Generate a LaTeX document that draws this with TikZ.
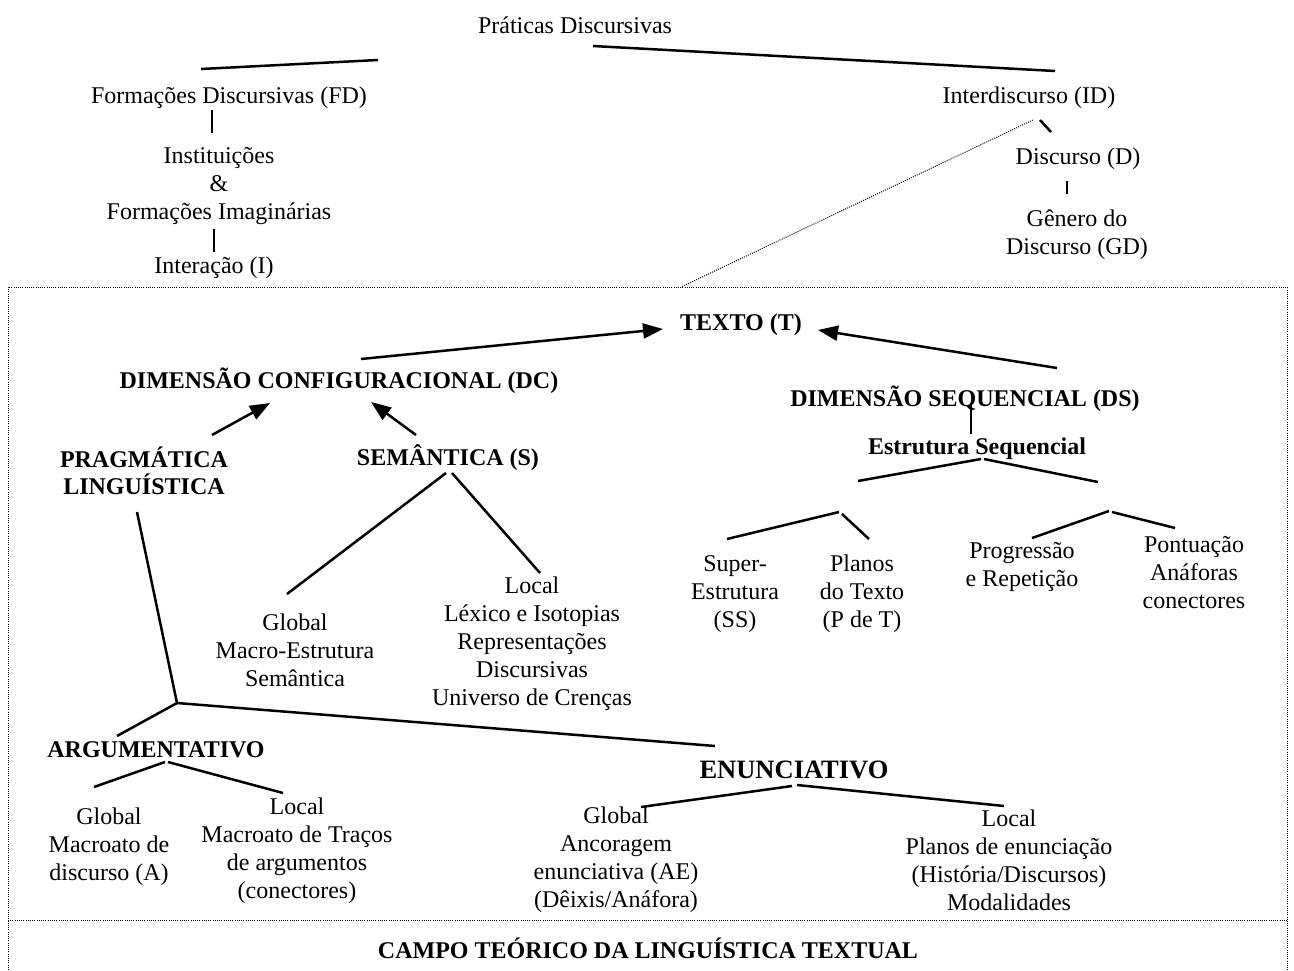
\documentclass[tikz,border=0pt]{standalone}
\usepackage{fontspec}
\setmainfont{Liberation Serif}
\usetikzlibrary{arrows.meta}
\begin{document}
\begin{tikzpicture}[x=1pt,y=-1pt,
  txt/.style={inner sep=0pt, align=center, font=\fontsize{24}{28}\selectfont},
  btxt/.style={inner sep=0pt, align=center, font=\fontsize{24}{27}\selectfont\bfseries},
  ln/.style={line width=2.5pt},
  arr/.style={line width=2.5pt, -{Triangle[length=20pt,width=15pt]}},
  dot/.style={line width=1pt, dash pattern=on 1pt off 1.2pt},
]
\useasboundingbox (0,0) rectangle (1294,970);
% nodes
\node[txt] (pd) at (575,25) {Práticas Discursivas};
\node[txt] (fd) at (229,98) {Formações Discursivas (FD)};
\node[txt] (inst) at (219,186) {Instituições\\\&\\Formações Imaginárias};
\node[txt] (inter) at (214,268) {Interação (I)};
\node[txt] (id) at (1029,98) {Interdiscurso (ID)};
\node[txt] (disc) at (1078,159) {Discurso (D)};
\node[txt] (gd) at (1077,235) {Gênero do\\Discurso (GD)};
\node[btxt] (texto) at (741,325) {TEXTO (T)};
\node[btxt] (dc) at (339,381) {DIMENSÃO CONFIGURACIONAL (DC)};
\node[btxt] (prag) at (144,471) {PRAGMÁTICA\\LINGUÍSTICA};
\node[btxt] (sem) at (448,458) {SEMÂNTICA (S)};
\node[txt] (semg) at (295,650) {Global\\Macro-Estrutura\\Semântica};
\node[txt] (seml) at (532,644) {Local\\Léxico e Isotopias\\Representações\\Discursivas\\Universo de Crenças};
\node[btxt] (ds) at (965,399) {DIMENSÃO SEQUENCIAL (DS)};
\node[btxt] (es) at (977,449) {Estrutura Sequencial};
\node[txt] (ss) at (735,594) {Super-\\Estrutura\\(SS)};
\node[txt] (pt) at (862,594) {Planos\\do Texto\\(P de T)};
\node[txt] (prog) at (1022,567) {Progressão\\e Repetição};
\node[txt] (pont) at (1194,573) {Pontuação\\Anáforas\\conectores};
\node[btxt] (arg) at (156,750) {ARGUMENTATIVO};
\node[inner sep=0pt, font=\fontsize{26.5}{30}\selectfont\bfseries] (enun) at (794,770) {ENUNCIATIVO};
\node[txt] (argg) at (109,847) {Global\\Macroato de\\discurso (A)};
\node[txt] (argl) at (297,851) {Local\\Macroato de Traços\\de argumentos\\(conectores)};
\node[txt] (enug) at (616,860) {Global\\Ancoragem\\enunciativa (AE)\\(Dêixis/Anáfora)};
\node[txt] (enul) at (1009,860) {Local\\Planos de enunciação\\(História/Discursos)\\Modalidades};
\node[btxt] (campo) at (648,948) {CAMPO TEÓRICO DA LINGUÍSTICA TEXTUAL};
% coordinates for line ends
\coordinate (a1) at (201,69); \coordinate (a2) at (378,60);
\coordinate (b1) at (593,46); \coordinate (b2) at (1055,71);
\coordinate (c1) at (212,110); \coordinate (c2) at (212,133);
\coordinate (d1) at (214,229); \coordinate (d2) at (214,252);
\coordinate (e1) at (1040,120); \coordinate (e2) at (1051,132);
\coordinate (f1) at (1067,181); \coordinate (f2) at (1067,194);
\coordinate (g1) at (1033,120); \coordinate (g2) at (681,287);
\coordinate (h1) at (971,403); \coordinate (h2) at (971,434);
\coordinate (i1) at (858,481); \coordinate (i2) at (981,459);
\coordinate (i3) at (984,459); \coordinate (i4) at (1098,482);
\coordinate (j1) at (727,539); \coordinate (j2) at (839,512);
\coordinate (j3) at (842,514); \coordinate (j4) at (869,539);
\coordinate (k1) at (1032,538); \coordinate (k2) at (1109,511);
\coordinate (k3) at (1112,512); \coordinate (k4) at (1175,528);
\coordinate (m1) at (446,473); \coordinate (m2) at (287,594);
\coordinate (m3) at (452,473); \coordinate (m4) at (540,573);
\coordinate (n1) at (137,512); \coordinate (jn) at (177,703);
\coordinate (n2) at (117,736); \coordinate (n3) at (715,746);
\coordinate (o1) at (165,762); \coordinate (o2) at (94,787);
\coordinate (o3) at (168,762); \coordinate (o4) at (283,793);
\coordinate (p1) at (641,807); \coordinate (p2) at (792,786);
\coordinate (p3) at (797,785); \coordinate (p4) at (1004,806);
\coordinate (q1) at (361,359); \coordinate (q2) at (663,329);
\coordinate (r1) at (1057,368); \coordinate (r2) at (818,330);
\coordinate (s1) at (212,435); \coordinate (s2) at (270,403);
\coordinate (t1) at (416,435); \coordinate (t2) at (371,402);
% lines
\draw[ln] (a1) -- (a2);
\draw[ln] (b1) -- (b2);
\draw[ln] (c1) -- (c2);
\draw[ln] (d1) -- (d2);
\draw[ln] (e1) -- (e2);
\draw[ln] (f1) -- (f2);
\draw[ln] (h1) -- (h2);
\draw[ln] (i1) -- (i2); \draw[ln] (i3) -- (i4);
\draw[ln] (j1) -- (j2); \draw[ln] (j3) -- (j4);
\draw[ln] (k1) -- (k2); \draw[ln] (k3) -- (k4);
\draw[ln] (m1) -- (m2); \draw[ln] (m3) -- (m4);
\draw[ln] (n1) -- (jn) -- (n2);
\draw[ln] (jn) -- (n3);
\draw[ln] (o1) -- (o2); \draw[ln] (o3) -- (o4);
\draw[ln] (p1) -- (p2); \draw[ln] (p3) -- (p4);
% arrows
\draw[arr] (q1) -- (q2);
\draw[arr] (r1) -- (r2);
\draw[arr] (s1) -- (s2);
\draw[arr] (t1) -- (t2);
% dotted frame
\coordinate (ftl) at (8,287); \coordinate (ftr) at (1287,287);
\coordinate (fbl) at (8,970); \coordinate (fbr) at (1287,970);
\coordinate (fml) at (8,920); \coordinate (fmr) at (1287,920);
\draw[dot] (fbl) -- (ftl) -- (ftr) -- (fbr);
\draw[dot] (fml) -- (fmr);
\draw[dot] (g1) -- (g2);
\end{tikzpicture}
\end{document}
